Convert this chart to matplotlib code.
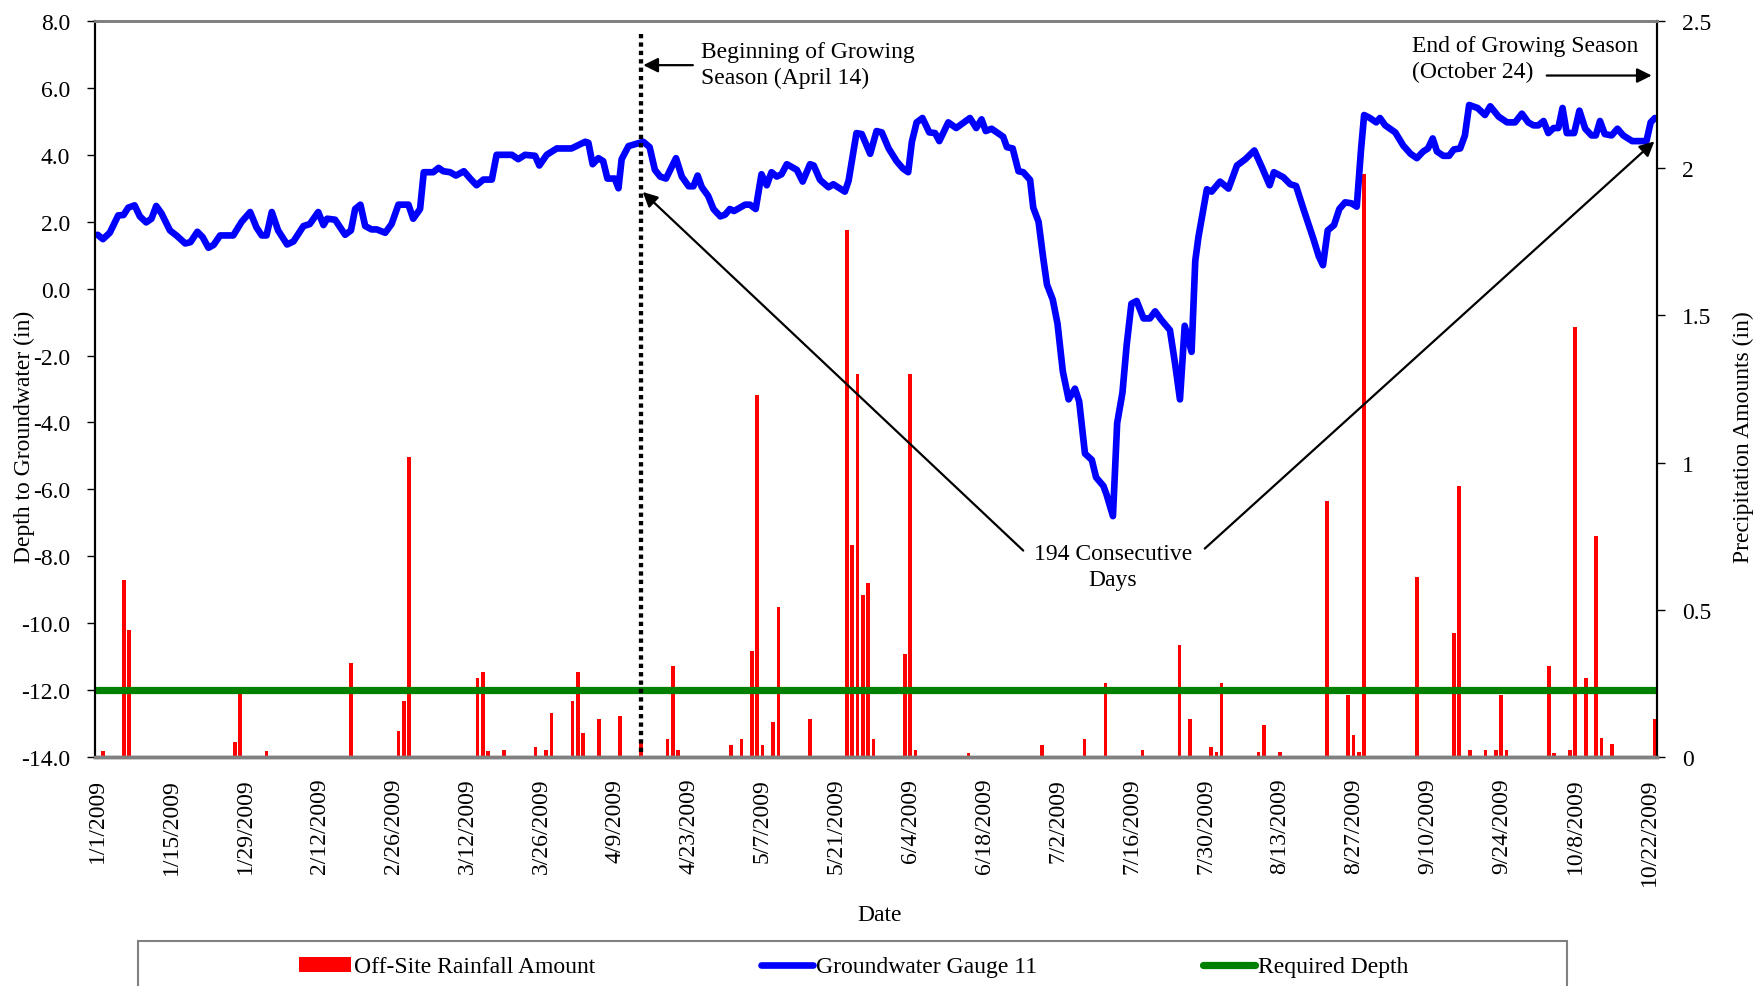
import matplotlib
matplotlib.use('Agg')
import matplotlib.pyplot as plt
from matplotlib.patches import Rectangle
from matplotlib.ticker import FormatStrFormatter, FixedLocator, FixedFormatter

plt.rcParams['font.family'] = ['Liberation Serif', 'DejaVu Serif']
plt.rcParams['font.size'] = 17

# day index (0 = 1/1/2009) of the axis categories
n_days = 296
tick_days = [0, 14, 28, 42, 56, 70, 84, 98, 112, 126, 140, 154, 168, 182,
             196, 210, 224, 238, 252, 266, 280, 294]
tick_labels = ['1/1/2009', '1/15/2009', '1/29/2009', '2/12/2009', '2/26/2009',
               '3/12/2009', '3/26/2009', '4/9/2009', '4/23/2009', '5/7/2009',
               '5/21/2009', '6/4/2009', '6/18/2009', '7/2/2009', '7/16/2009',
               '7/30/2009', '8/13/2009', '8/27/2009', '9/10/2009', '9/24/2009',
               '10/8/2009', '10/22/2009']

# Groundwater Gauge 11, depth (in)
gw_day = [0.0, 1.0, 2.3, 3.9, 4.9, 5.8, 7.0, 8.0, 9.2, 10.2, 11.1, 12.1, 13.7, 15.0,
          16.6, 17.6, 18.9, 19.9, 21.0, 22.0, 23.2, 25.7, 27.3, 28.9, 30.1, 31.1,
          32.0, 33.0, 34.2, 35.9, 37.1, 39.0, 40.2, 41.8, 42.8, 43.5, 45.0, 46.9,
          48.0, 48.8, 49.8, 50.7, 51.9, 52.9, 54.5, 55.7, 57.0, 58.9, 59.8, 61.1,
          61.8, 63.6, 64.6, 65.5, 66.8, 67.9, 69.4, 70.6, 71.8, 73.1, 74.7, 75.6,
          78.5, 79.7, 81.0, 82.9, 83.7, 85.1, 87.0, 89.8, 92.4, 93.0, 93.8, 94.9,
          95.8, 96.6, 98.0, 98.7, 99.3, 100.6, 101.9, 103.4, 104.6, 105.6, 106.6,
          107.7, 109.6, 110.7, 112.0, 112.9, 113.7, 114.5, 115.7, 116.7, 118.0,
          118.9, 119.8, 120.6, 122.7, 123.6, 124.7, 125.8, 126.8, 127.7, 128.7,
          129.6, 130.6, 132.5, 133.6, 135.0, 135.7, 136.9, 138.5, 139.4, 141.6,
          142.3, 143.8, 144.8, 146.4, 147.6, 148.6, 149.9, 151.4, 152.6, 153.6,
          154.3, 155.2, 156.3, 157.6, 158.7, 159.5, 161.2, 162.7, 165.3, 166.5,
          167.5, 168.3, 169.4, 171.6, 172.3, 173.4, 174.5, 175.4, 176.7, 177.3,
          178.3, 179.2, 179.9, 181.0, 181.9, 182.9, 184.0, 185.2, 186.0, 187.1,
          188.4, 189.2, 190.6, 191.2, 192.4, 193.2, 194.2, 195.0, 195.9, 196.9,
          198.2, 199.4, 200.4, 201.6, 203.2, 204.2, 205.1, 206.0, 207.3, 208.0,
          208.6, 210.2, 211.1, 212.7, 214.3, 215.9, 217.5, 219.2, 220.6, 222.1,
          222.9, 224.7, 226.0, 227.1, 228.5, 230.4, 231.4, 232.2, 233.1, 234.3,
          235.3, 236.4, 237.6, 238.6, 239.4, 240.0, 241.1, 242.3, 243.0, 244.0,
          245.9, 247.4, 248.8, 250.0, 251.2, 252.1, 253.0, 253.8, 255.0, 256.1,
          257.0, 258.2, 259.1, 259.9, 261.5, 262.9, 263.9, 265.5, 267.1, 268.6,
          269.9, 271.1, 272.1, 273.0, 274.0, 274.9, 275.9, 276.8, 277.6, 278.4,
          279.8, 280.8, 281.9, 283.1, 283.9, 284.7, 285.6, 286.9, 288.0, 289.1,
          290.8, 293.5, 294.3, 295.1]
gw_depth = [1.61, 1.48, 1.67, 2.19, 2.20, 2.42, 2.49, 2.16, 1.98, 2.09, 2.47, 2.25, 1.74, 1.58,
            1.35, 1.39, 1.70, 1.54, 1.22, 1.31, 1.59, 1.59, 2.00, 2.29, 1.83, 1.59,
            1.59, 2.29, 1.74, 1.32, 1.41, 1.87, 1.93, 2.29, 1.90, 2.09, 2.06, 1.61,
            1.74, 2.38, 2.51, 1.87, 1.77, 1.77, 1.67, 1.93, 2.51, 2.51, 2.09, 2.38,
            3.48, 3.48, 3.61, 3.51, 3.48, 3.38, 3.51, 3.29, 3.09, 3.26, 3.26, 4.00,
            4.00, 3.87, 4.00, 3.97, 3.68, 4.00, 4.19, 4.19, 4.39, 4.36, 3.72, 3.90,
            3.81, 3.29, 3.29, 3.00, 3.87, 4.26, 4.32, 4.39, 4.23, 3.55, 3.35,
            3.29, 3.90, 3.35, 3.06, 3.06, 3.38, 3.03, 2.77, 2.38, 2.16,
            2.21, 2.38, 2.32, 2.51, 2.51, 2.38, 3.42, 3.09, 3.48, 3.35,
            3.42, 3.72, 3.55, 3.20, 3.72, 3.68, 3.25, 3.03, 3.12, 2.90,
            3.22, 4.65, 4.62, 4.03, 4.71, 4.67, 4.19, 3.81, 3.59, 3.48,
            4.39, 4.97, 5.10, 4.67, 4.65, 4.41, 4.97, 4.80, 5.10, 4.80,
            5.06, 4.71, 4.78, 4.54, 4.23, 4.19, 3.51, 3.48, 3.25, 2.42,
            2.00, 0.90, 0.12, -0.33, -1.05, -2.47, -3.31, -2.99, -3.37, -4.93,
            -5.12, -5.64, -5.90, -6.16, -6.80, -4.02, -3.11, -1.69, -0.45, -0.37,
            -0.89, -0.89, -0.68, -0.94, -1.24, -2.27, -3.31, -1.11, -1.89, 0.83,
            1.54, 2.97, 2.90, 3.20, 2.99, 3.68, 3.87, 4.13, 3.64, 3.09,
            3.48, 3.33, 3.12, 3.07, 2.38, 1.48, 0.97, 0.70, 1.74, 1.90,
            2.38, 2.58, 2.55, 2.45, 4.13, 5.19, 5.10, 4.97, 5.10, 4.88,
            4.67, 4.28, 4.03, 3.90, 4.10, 4.19, 4.49, 4.10, 3.97, 3.97,
            4.16, 4.19, 4.58, 5.49, 5.40, 5.19, 5.45, 5.14, 4.97, 4.97,
            5.23, 4.97, 4.88, 4.88, 5.01, 4.65, 4.80, 4.80, 5.40, 4.65,
            4.65, 5.32, 4.78, 4.58, 4.58, 5.01, 4.62, 4.58, 4.78, 4.58,
            4.41, 4.41, 4.97, 5.10]

# Off-site rainfall (in)
rain_day = [1, 5, 6, 26, 27, 32, 48, 57, 58, 59, 72, 73, 74, 77, 83, 85, 86, 90, 91, 92,
            95, 99, 103, 108, 109, 110, 120, 122, 124, 125, 126, 128, 129, 135, 142,
            143, 144, 145, 146, 147, 153, 154, 155, 165, 179, 187, 191, 198, 205, 207,
            211, 212, 213, 220, 221, 224, 233, 237, 238, 239, 240, 250, 257, 258, 260,
            263, 265, 266, 267, 275, 276, 279, 280, 282, 284, 285, 287, 295]
rain_amt = [0.02, 0.60, 0.43, 0.05, 0.22, 0.02, 0.32, 0.09, 0.19, 1.02, 0.27, 0.29, 0.02,
            0.024, 0.034, 0.024, 0.15, 0.19, 0.29, 0.08, 0.13, 0.14, 0.05, 0.06, 0.31,
            0.024, 0.04, 0.06, 0.36, 1.23, 0.04, 0.12, 0.51, 0.13, 1.79, 0.72, 1.30,
            0.55, 0.59, 0.06, 0.35, 1.30, 0.024, 0.013, 0.04, 0.06, 0.25, 0.024, 0.38,
            0.13, 0.034, 0.016, 0.25, 0.016, 0.11, 0.016, 0.87, 0.21, 0.075, 0.016,
            1.98, 0.61, 0.42, 0.92, 0.024, 0.024, 0.024, 0.21, 0.024, 0.31, 0.013,
            0.024, 1.46, 0.27, 0.75, 0.063, 0.043, 0.13]

required_depth = -12.0
season_start = 103   # April 14
season_end = 295

fig = plt.figure(figsize=(17.58, 9.87), dpi=100)
ax = fig.add_axes([95 / 1758, 1 - 758 / 987, 1562 / 1758, 736 / 987])
ax2 = ax.twinx()
ax.set_zorder(ax2.get_zorder() + 1)
ax.patch.set_visible(False)

bars = ax2.bar(rain_day, rain_amt, width=0.7, color='#ff0000', linewidth=0,
               label='Off-Site Rainfall Amount')
gw_line, = ax.plot(gw_day, gw_depth, color='#0000ff', lw=4.8, solid_capstyle='round',
                   solid_joinstyle='round', label='Groundwater Gauge 11')
req_line, = ax.plot([-0.5, n_days - 0.5], [required_depth, required_depth], color='#008000',
                    lw=5.2, solid_capstyle='round', label='Required Depth')
ax.plot([season_start, season_start], [7.6, -14], color='black', lw=3.1,
        linestyle=(0, (1, 0.95)), dash_capstyle='butt')

ax.set_xlim(-0.5, n_days - 0.5)
ax.set_ylim(-14, 8)
ax.set_yticks(range(-14, 9, 2))
ax.yaxis.set_major_formatter(FormatStrFormatter('%.1f'))
ax2.set_ylim(0, 2.5)
ax2.yaxis.set_major_locator(FixedLocator([0, 0.5, 1, 1.5, 2, 2.5]))
ax2.yaxis.set_major_formatter(FixedFormatter(['0', '0.5', '1', '1.5', '2', '2.5']))

ax.set_xticks(tick_days)
ax.set_xticklabels(tick_labels, rotation=90)
ax.tick_params(axis='x', length=0, pad=15)
ax.tick_params(axis='y', direction='out', length=6, width=1, pad=12)
ax2.tick_params(axis='y', direction='out', length=6, width=1, pad=12)

for a in (ax, ax2):
    a.spines['top'].set_color('#808080')
    a.spines['top'].set_linewidth(2)
    a.spines['bottom'].set_color('#808080')
    a.spines['bottom'].set_linewidth(2.5)
    a.spines['left'].set_color('black')
    a.spines['left'].set_linewidth(1.5)
    a.spines['right'].set_color('black')
    a.spines['right'].set_linewidth(1.5)

ax.set_xlabel('Date')
ax.xaxis.set_label_coords(0.5026, -0.200)
ax.set_ylabel('Depth to Groundwater (in)')
ax.yaxis.set_label_coords(-0.0385, 0.436)
ax2.set_ylabel('Precipitation Amounts (in)')
ax2.yaxis.set_label_coords(1.0485, 0.436)

# annotations
arrow = dict(arrowstyle='-|>', color='black', lw=1.6, mutation_scale=22, shrinkA=0, shrinkB=0)
ax.text(114.3, 6.71, 'Beginning of Growing\nSeason (April 14)', ha='left', va='center',
        linespacing=1.3)
ax.annotate('', xy=(103.4, 6.68), xytext=(112.8, 6.68), arrowprops=arrow)
ax.text(249.1, 6.89, 'End of Growing Season\n(October 24)', ha='left', va='center',
        linespacing=1.3)
ax.annotate('', xy=(294.5, 6.37), xytext=(274.6, 6.37), arrowprops=arrow)
ax.text(192.4, -8.3, '194 Consecutive\nDays', ha='center', va='center', linespacing=1.3)
ax.annotate('', xy=(season_start + 0.3, 2.89), xytext=(175.4, -7.83), arrowprops=arrow)
ax.annotate('', xy=(season_end, 4.40), xytext=(209.8, -7.77), arrowprops=arrow)

# legend box running off the bottom of the figure
fig.patches.append(Rectangle((138 / 1758, -0.05), (1567 - 138) / 1758, 0.05 + 1 - 942 / 987,
                             transform=fig.transFigure, fill=False, edgecolor='#808080',
                             lw=1.5))
fig.legend([bars, gw_line, req_line],
           ['Off-Site Rainfall Amount', 'Groundwater Gauge 11', 'Required Depth'],
           loc='center left', bbox_to_anchor=(287 / 1758, 1 - 968 / 987), ncol=3,
           frameon=False, borderpad=0, handlelength=2.2, handletextpad=0.15,
           columnspacing=7.0, handleheight=0.6)

fig.savefig('out.png', dpi=100)
